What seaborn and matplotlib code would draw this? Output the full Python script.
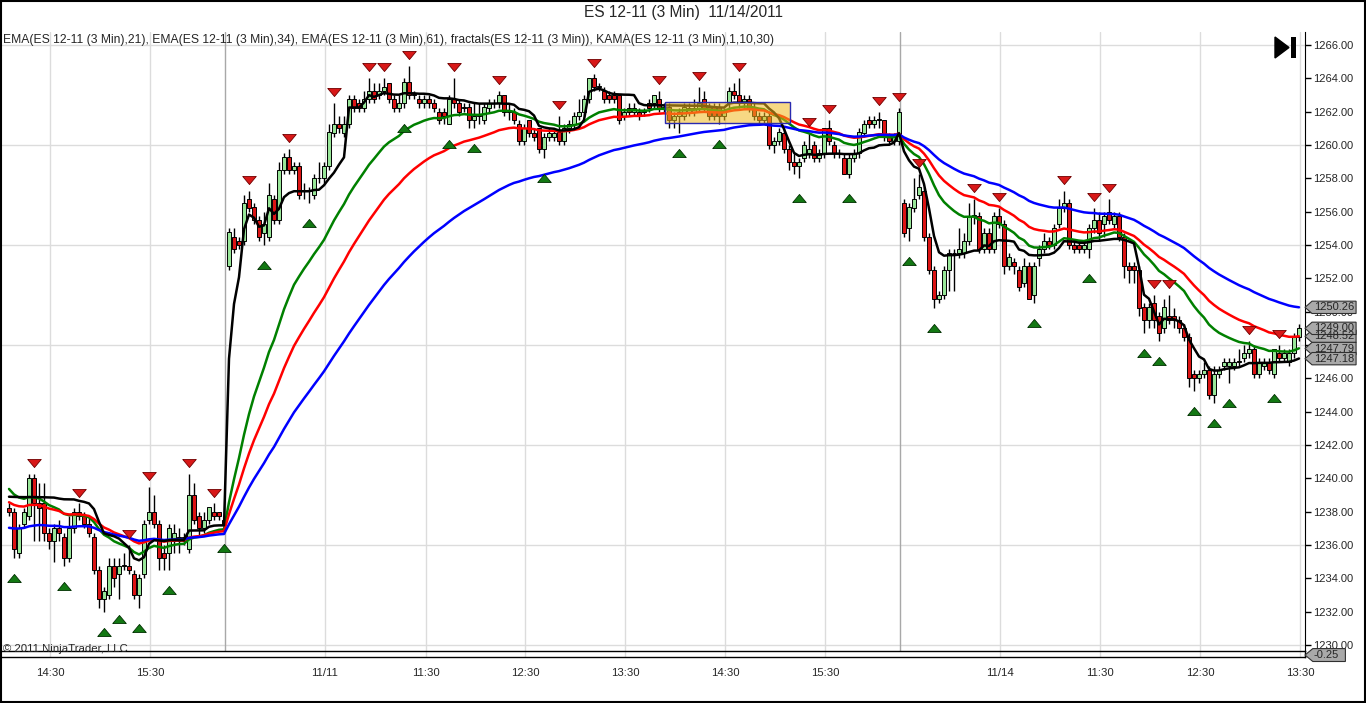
import numpy as np
import pandas as pd
import matplotlib
matplotlib.use("Agg")
import matplotlib.pyplot as plt
import seaborn as sns
from matplotlib.patches import Rectangle, Polygon
from matplotlib.path import Path
from matplotlib.transforms import blended_transform_factory

# 3 minute bars, 11/10 afternoon, 11/11 full session, 11/14 morning
opens = [
    1238.25, 1238.0, 1235.5, 1237.25, 1237.75, 1240.0, 1238.5, 1238.5, 1236.75, 1236.25,
    1237.0, 1236.5, 1235.25, 1237.0, 1238.0, 1237.75, 1237.25, 1236.5, 1234.5, 1232.75,
    1233.0, 1234.75, 1234.25, 1234.75, 1234.75, 1234.25, 1233.0, 1234.25, 1237.5, 1238.0,
    1237.25, 1235.5, 1235.5, 1236.25, 1236.25, 1236.5, 1235.75, 1239.0, 1237.75, 1237.0,
    1237.5, 1238.0, 1238.0, 1237.5,
    1252.75, 1254.5, 1254.25, 1254.25, 1256.75, 1256.25, 1255.5, 1254.75, 1254.5, 1256.75,
    1255.5, 1258.5, 1259.25, 1258.5, 1258.75, 1257.25, 1257.25, 1257.0, 1258.0, 1258.0,
    1258.75, 1260.75, 1261.25, 1260.75, 1261.25, 1262.75, 1262.5, 1262.25, 1262.75, 1263.25,
    1263.0, 1263.25, 1263.75, 1262.75, 1262.25, 1262.5, 1263.75, 1263.0, 1262.75, 1262.5,
    1262.75, 1262.5, 1262.0, 1262.0, 1261.25, 1262.75, 1262.5, 1262.25, 1262.25, 1261.5,
    1261.75, 1261.5, 1262.25, 1262.5, 1262.5, 1263.0, 1262.0, 1262.0, 1261.25, 1260.25,
    1261.5, 1260.75, 1261.0, 1259.75, 1260.5, 1260.5, 1260.75, 1260.25, 1261.0, 1261.25,
    1261.75, 1262.0, 1262.75, 1264.0, 1263.5, 1263.25, 1263.0, 1263.0, 1263.0, 1261.75,
    1262.25, 1262.0, 1262.0, 1262.0, 1262.5, 1262.5, 1262.75, 1262.25, 1262.25, 1261.5,
    1261.75, 1261.75, 1262.0, 1262.0, 1262.25, 1262.75, 1262.25, 1262.25, 1262.25, 1261.75,
    1262.5, 1263.25, 1263.0, 1262.5, 1262.75, 1262.25, 1261.75, 1261.5, 1261.75, 1260.0,
    1260.25, 1260.75, 1259.75, 1259.0, 1258.75, 1259.25, 1259.5, 1260.0, 1259.25, 1259.5,
    1261.0, 1260.0, 1259.5, 1259.25, 1258.25, 1259.25, 1259.5, 1260.75, 1261.5, 1261.25,
    1261.5, 1261.5, 1260.5, 1260.25, 1260.25,
    1256.5, 1255.0, 1256.25, 1257.0, 1257.25, 1254.5, 1252.5, 1250.75, 1251.0, 1252.5,
    1253.5, 1253.5, 1253.5, 1254.25, 1255.75, 1255.75, 1253.75, 1254.75, 1253.75, 1255.75,
    1255.25, 1252.75, 1253.0, 1252.5, 1251.75, 1252.75, 1251.0, 1253.25, 1253.75, 1254.25,
    1254.0, 1255.25, 1256.25, 1256.5, 1254.0, 1254.0, 1253.75, 1253.75, 1255.0, 1255.5,
    1255.25, 1256.0, 1255.25, 1255.75, 1254.5, 1252.75, 1252.75, 1252.5, 1250.25, 1249.5,
    1250.5, 1249.75, 1249.0, 1249.75, 1249.75, 1249.5, 1249.0, 1248.5, 1246.25, 1246.0,
    1246.25, 1246.5, 1245.0, 1246.25, 1246.75, 1246.75, 1246.75, 1247.0, 1247.25, 1247.5,
    1247.75, 1246.25, 1246.75, 1247.0, 1246.25, 1247.5, 1247.25, 1247.0, 1247.5, 1248.5,
]
highs = [
    1238.5, 1238.25, 1237.25, 1238.25, 1240.25, 1240.25, 1239.75, 1239.75, 1237.0, 1237.25,
    1237.5, 1236.75, 1237.75, 1238.25, 1238.5, 1238.0, 1237.75, 1236.75, 1234.75, 1233.5,
    1235.25, 1235.25, 1235.25, 1235.5, 1236.0, 1234.5, 1234.25, 1237.5, 1239.5, 1239.0,
    1237.5, 1236.0, 1237.25, 1237.25, 1237.0, 1236.75, 1240.25, 1239.75, 1238.0, 1238.0,
    1238.25, 1238.5, 1238.0, 1237.75,
    1255.0, 1255.0, 1254.5, 1257.0, 1257.25, 1256.5, 1255.75, 1256.0, 1257.75, 1257.0,
    1259.0, 1259.5, 1259.75, 1259.0, 1259.0, 1257.75, 1257.5, 1258.25, 1259.0, 1259.0,
    1261.25, 1262.5, 1261.75, 1261.75, 1263.0, 1263.0, 1262.75, 1263.25, 1264.0, 1263.75,
    1263.75, 1264.0, 1263.75, 1263.0, 1263.0, 1264.0, 1264.75, 1263.25, 1263.0, 1263.0,
    1263.0, 1262.75, 1262.25, 1262.25, 1263.0, 1264.0, 1262.75, 1262.5, 1262.5, 1262.5,
    1262.5, 1262.5, 1262.75, 1262.75, 1263.25, 1263.0, 1262.5, 1262.25, 1261.5, 1261.25,
    1261.5, 1261.0, 1261.0, 1260.75, 1261.0, 1261.0, 1261.75, 1261.25, 1261.5, 1262.0,
    1262.75, 1263.0, 1264.0, 1264.25, 1263.75, 1263.5, 1263.25, 1263.25, 1263.0, 1262.25,
    1262.5, 1262.5, 1262.25, 1262.25, 1262.75, 1263.0, 1263.25, 1262.5, 1262.5, 1262.0,
    1262.25, 1262.5, 1262.5, 1262.75, 1263.5, 1263.25, 1262.5, 1262.5, 1262.5, 1262.25,
    1263.5, 1263.75, 1264.0, 1263.0, 1263.0, 1262.5, 1262.0, 1262.0, 1262.0, 1260.5,
    1261.0, 1261.0, 1260.0, 1259.5, 1259.25, 1260.25, 1260.75, 1260.25, 1259.75, 1261.0,
    1261.5, 1260.25, 1259.75, 1259.5, 1259.5, 1259.75, 1261.0, 1261.5, 1261.75, 1261.75,
    1262.0, 1261.5, 1260.75, 1260.75, 1262.25,
    1256.75, 1256.5, 1258.0, 1258.25, 1257.5, 1254.75, 1252.75, 1251.25, 1252.75, 1253.75,
    1253.75, 1255.0, 1254.75, 1256.5, 1256.75, 1256.0, 1255.0, 1255.0, 1256.0, 1256.25,
    1255.5, 1253.5, 1253.25, 1252.75, 1253.25, 1253.0, 1253.0, 1254.0, 1254.75, 1254.5,
    1255.25, 1256.75, 1257.25, 1256.75, 1254.25, 1254.25, 1254.25, 1255.25, 1256.25, 1256.0,
    1256.0, 1256.75, 1256.0, 1256.0, 1254.75, 1253.0, 1253.0, 1252.75, 1250.5, 1250.5,
    1251.0, 1250.0, 1250.75, 1251.0, 1250.25, 1249.75, 1249.25, 1248.75, 1246.5, 1246.5,
    1247.0, 1246.75, 1246.75, 1246.75, 1247.25, 1247.25, 1247.25, 1247.75, 1248.0, 1248.25,
    1248.0, 1247.25, 1247.25, 1247.25, 1247.75, 1248.0, 1247.75, 1247.75, 1248.75, 1249.25,
]
lows = [
    1237.75, 1235.25, 1235.25, 1237.0, 1237.5, 1236.25, 1236.25, 1236.25, 1235.75, 1235.0,
    1236.25, 1234.75, 1235.0, 1236.75, 1237.5, 1237.0, 1236.5, 1234.25, 1232.25, 1232.0,
    1232.75, 1233.5, 1232.75, 1234.5, 1234.25, 1232.75, 1232.25, 1234.0, 1237.25, 1237.0,
    1234.5, 1234.5, 1234.5, 1235.5, 1235.5, 1236.0, 1235.5, 1237.25, 1236.5, 1236.75,
    1237.25, 1237.5, 1237.5, 1237.0,
    1252.5, 1253.5, 1253.75, 1254.0, 1256.0, 1255.25, 1254.25, 1254.0, 1254.25, 1255.25,
    1255.25, 1258.25, 1258.25, 1258.25, 1256.75, 1256.75, 1256.5, 1256.75, 1257.75, 1257.75,
    1258.5, 1260.5, 1260.75, 1260.5, 1261.0, 1262.0, 1262.0, 1262.0, 1262.5, 1262.5,
    1262.75, 1263.0, 1262.5, 1262.0, 1262.0, 1262.25, 1262.75, 1262.75, 1262.25, 1262.25,
    1262.25, 1262.0, 1261.25, 1261.25, 1261.25, 1262.25, 1261.75, 1262.0, 1261.0, 1261.0,
    1261.25, 1261.25, 1262.0, 1262.25, 1262.25, 1261.75, 1261.5, 1261.25, 1260.0, 1260.0,
    1260.5, 1260.25, 1259.5, 1259.25, 1260.25, 1260.25, 1260.0, 1260.0, 1260.75, 1261.0,
    1261.5, 1261.75, 1262.5, 1263.25, 1263.25, 1262.5, 1262.5, 1262.5, 1261.25, 1261.5,
    1261.75, 1261.75, 1261.5, 1261.75, 1262.0, 1262.25, 1262.0, 1262.0, 1261.0, 1261.0,
    1260.75, 1261.5, 1261.75, 1261.75, 1262.0, 1262.0, 1261.5, 1261.5, 1261.25, 1261.5,
    1262.25, 1262.75, 1262.25, 1262.25, 1262.0, 1261.5, 1261.25, 1261.25, 1259.75, 1259.5,
    1260.0, 1259.5, 1258.5, 1258.25, 1258.0, 1259.0, 1259.25, 1259.0, 1259.0, 1259.25,
    1260.0, 1259.25, 1259.25, 1258.25, 1258.0, 1259.0, 1259.25, 1260.5, 1261.0, 1261.0,
    1261.0, 1260.25, 1260.0, 1260.0, 1260.0,
    1254.5, 1254.25, 1256.0, 1256.75, 1254.25, 1252.25, 1250.25, 1250.5, 1250.75, 1251.25,
    1251.25, 1253.25, 1253.25, 1254.0, 1255.25, 1253.5, 1253.5, 1253.5, 1253.5, 1255.0,
    1252.25, 1252.5, 1252.25, 1251.25, 1251.5, 1250.75, 1250.5, 1252.75, 1253.5, 1253.75,
    1253.75, 1255.0, 1256.0, 1253.75, 1253.5, 1253.5, 1253.5, 1253.25, 1254.75, 1254.25,
    1254.5, 1255.25, 1255.0, 1254.25, 1252.0, 1251.75, 1251.75, 1249.75, 1248.75, 1249.0,
    1249.0, 1248.25, 1248.75, 1249.25, 1249.0, 1248.75, 1248.25, 1245.5, 1245.25, 1245.75,
    1246.0, 1244.75, 1244.5, 1246.0, 1246.5, 1245.75, 1246.5, 1246.75, 1247.0, 1247.25,
    1246.0, 1246.0, 1246.5, 1246.25, 1246.0, 1247.0, 1247.0, 1246.75, 1247.25, 1248.25,
]
closes = [
    1238.0, 1235.75, 1237.0, 1238.0, 1240.0, 1238.5, 1238.25, 1236.75, 1236.25, 1237.0,
    1236.75, 1235.25, 1237.0, 1238.0, 1237.75, 1237.25, 1236.75, 1234.5, 1232.75, 1233.25,
    1234.75, 1234.0, 1234.75, 1234.75, 1234.5, 1233.0, 1234.0, 1237.25, 1238.0, 1237.25,
    1235.25, 1235.25, 1237.0, 1236.75, 1236.5, 1236.25, 1239.0, 1237.5, 1237.0, 1237.5,
    1238.25, 1237.75, 1237.75, 1237.25,
    1254.75, 1253.75, 1254.0, 1256.5, 1256.25, 1255.5, 1254.5, 1255.25, 1257.0, 1255.5,
    1258.5, 1259.25, 1258.5, 1258.75, 1257.0, 1257.25, 1257.25, 1258.0, 1258.0, 1258.75,
    1260.75, 1261.25, 1261.0, 1261.25, 1262.75, 1262.25, 1262.25, 1262.75, 1263.25, 1262.75,
    1263.25, 1263.5, 1262.75, 1262.25, 1262.5, 1263.75, 1263.0, 1263.0, 1262.5, 1262.75,
    1262.5, 1262.25, 1261.5, 1261.75, 1262.75, 1262.5, 1262.0, 1262.25, 1261.5, 1261.75,
    1261.75, 1262.25, 1262.5, 1262.5, 1263.0, 1262.0, 1262.0, 1261.5, 1260.25, 1261.0,
    1260.75, 1260.5, 1259.75, 1260.5, 1260.75, 1260.75, 1260.25, 1261.0, 1261.25, 1261.75,
    1262.0, 1262.75, 1264.0, 1263.5, 1263.5, 1262.75, 1262.75, 1262.75, 1261.5, 1262.0,
    1262.0, 1262.25, 1261.75, 1262.0, 1262.25, 1263.0, 1262.25, 1262.25, 1261.5, 1261.75,
    1262.0, 1262.25, 1262.25, 1262.25, 1262.5, 1262.25, 1261.75, 1261.75, 1261.75, 1262.0,
    1263.25, 1263.0, 1262.5, 1262.75, 1262.25, 1261.75, 1261.5, 1261.75, 1260.0, 1260.25,
    1260.75, 1259.75, 1259.0, 1258.75, 1259.0, 1260.0, 1259.75, 1259.25, 1259.5, 1261.0,
    1260.25, 1259.5, 1259.5, 1258.25, 1259.25, 1259.5, 1260.75, 1261.25, 1261.25, 1261.5,
    1261.5, 1260.5, 1260.25, 1260.5, 1262.0,
    1254.75, 1256.25, 1256.75, 1257.5, 1254.5, 1252.5, 1250.75, 1251.0, 1252.5, 1253.5,
    1253.5, 1253.75, 1254.25, 1255.75, 1255.75, 1253.75, 1254.75, 1253.75, 1255.75, 1255.25,
    1252.75, 1253.25, 1252.75, 1251.5, 1252.75, 1250.75, 1252.75, 1253.75, 1254.25, 1254.0,
    1255.0, 1256.25, 1256.5, 1254.0, 1253.75, 1253.75, 1254.0, 1255.0, 1255.5, 1254.75,
    1255.75, 1255.5, 1255.75, 1254.5, 1252.75, 1252.5, 1252.5, 1250.25, 1249.5, 1250.25,
    1249.5, 1248.75, 1250.25, 1249.5, 1249.5, 1249.0, 1248.5, 1246.0, 1246.0, 1246.25,
    1246.5, 1245.0, 1246.25, 1246.5, 1247.0, 1247.0, 1247.0, 1247.0, 1247.5, 1247.75,
    1246.25, 1247.0, 1247.0, 1246.5, 1247.75, 1247.25, 1247.5, 1247.5, 1248.5, 1249.0,
]

# bars carrying a fractal marker
up_fractals = [5, 14, 24, 28, 36, 41, 48, 56, 65, 72, 75, 80, 89, 98, 110, 117, 130, 138,
               146, 160, 164, 174, 178, 182, 193, 198, 211, 217, 220, 229, 232, 248, 254]
down_fractals = [1, 11, 19, 22, 26, 32, 43, 51, 60, 79, 88, 93, 107, 134, 142, 158, 168,
                 180, 185, 205, 216, 227, 230, 237, 241, 244, 253]

tick_bars = [8.2, 28.2, 63.2, 83.4, 103.2, 123.2, 143.2, 163.2, 198.2, 218.2, 238.2, 258.2]
tick_labels = ["14:30", "15:30", "11/11", "11:30", "12:30", "13:30",
               "14:30", "15:30", "11/14", "11:30", "12:30", "13:30"]
session_breaks = [43.2, 178.2]

# indicator settings and their values just before the first visible bar
ema_periods = [21, 34, 61]
ema_colors = ["#008000", "#ff0000", "#0000ff"]
ema_seed = [1239.5, 1238.6, 1237.0]
kama_params = (1, 10, 30)
kama_seed = 1238.9

tag_values = [1250.26, 1248.52, 1249.00, 1247.79, 1247.18]
highlight = (131.2, 156.2, 1261.32, 1262.58)


def ema(values, period, seed):
    k = 2.0 / (period + 1)
    out, prev = [], seed
    for v in values:
        prev = prev + k * (v - prev)
        out.append(prev)
    return out


def kama(values, fast, period, slow, seed):
    fast_cf = 2.0 / (fast + 1)
    slow_cf = 2.0 / (slow + 1)
    out, prev = [], seed
    for i, v in enumerate(values):
        if i < period:
            # not enough bars for the efficiency ratio yet
            sc = slow_cf ** 2
        else:
            signal = abs(v - values[i - period])
            noise = sum(abs(values[m] - values[m - 1]) for m in range(i - period + 1, i + 1))
            er = signal / noise if noise > 0 else 0.0
            sc = (er * (fast_cf - slow_cf) + slow_cf) ** 2
        prev = prev + sc * (v - prev)
        out.append(prev)
    return out


n = len(closes)
bars = np.arange(n)
o = np.array(opens); h = np.array(highs); l = np.array(lows); c = np.array(closes)

names = [f"EMA{p}" for p in ema_periods] + ["KAMA"]
series = [ema(closes, p, s) for p, s in zip(ema_periods, ema_seed)]
series.append(kama(closes, *kama_params, kama_seed))
lines = pd.DataFrame({
    "bar": np.tile(bars, len(names)),
    "value": np.concatenate(series),
    "name": np.repeat(names, n),
})
print({nm: round(s[-1], 2) for nm, s in zip(names, series)})

sns.set_style("white")
plt.rcParams["font.family"] = ["Liberation Sans", "DejaVu Sans"]

W, H = 1366, 703
fig = plt.figure(figsize=(W / 100, H / 100), dpi=100, facecolor="white")
ax = fig.add_axes([2 / W, 1 - 651 / H, 1303 / W, 619 / H])
ax2 = fig.add_axes([2 / W, 1 - 657 / H, 1303 / W, 6 / H], sharex=ax)

ax.set_xlim(-1.4, 259.2)
ax.set_ylim(1229.64, 1266.78)

grid_col = "#dcdcdc"
for y in np.arange(1230, 1267, 6):
    ax.axhline(y, color=grid_col, lw=1, zorder=0)
for x in tick_bars:
    ax.axvline(x, color=grid_col, lw=1, zorder=0)
    ax2.axvline(x, color=grid_col, lw=1, zorder=0)
for x in session_breaks:
    ax.axvline(x, color="#a8a8a8", lw=1, zorder=0.5)

# candles
up = c >= o
ax.vlines(bars, l, h, color="black", lw=1, zorder=2)
body_h = np.maximum(np.abs(c - o), 0.04)
ax.bar(bars, body_h, bottom=np.minimum(o, c), width=0.74,
       color=np.where(up, "#98e698", "#dc1414"), edgecolor="black", linewidth=0.7, zorder=3)

# moving averages
sns.lineplot(data=lines, x="bar", y="value", hue="name", hue_order=names,
             palette=dict(zip(names, ema_colors + ["black"])), linewidth=1.8,
             legend=False, sort=False, estimator=None, ax=ax, zorder=4)

# fractals
down_tri = Path([(-1, 0.6), (1, 0.6), (0, -0.6), (-1, 0.6)])
up_tri = Path([(-1, -0.6), (1, -0.6), (0, 0.6), (-1, -0.6)])
up_idx = np.array(up_fractals); dn_idx = np.array(down_fractals)
sns.scatterplot(x=up_idx, y=h[up_idx] + 0.65, marker=down_tri, s=95, color="#d81818",
                edgecolor="#700000", linewidth=0.6, ax=ax, zorder=5)
sns.scatterplot(x=dn_idx, y=l[dn_idx] - 1.2, marker=up_tri, s=95, color="#137813",
                edgecolor="#003000", linewidth=0.6, ax=ax, zorder=5)

# highlighted region
x0, x1, y0, y1 = highlight
ax.add_patch(Rectangle((x0, y0), x1 - x0, y1 - y0, facecolor="#f2b820", alpha=0.55,
                       edgecolor="none", zorder=6))
ax.add_patch(Rectangle((x0, y0), x1 - x0, y1 - y0, fill=False, edgecolor="#2a2ab0",
                       lw=1, zorder=6))

# axes styling
ax.set_xlabel(""); ax.set_ylabel("")
for sp in ["top", "left", "bottom"]:
    ax.spines[sp].set_visible(False)
ax.spines["right"].set_color("black")
ax.yaxis.tick_right()
ax.set_yticks(np.arange(1230, 1267, 2))
ax.set_yticklabels([f"{v:.2f}" for v in np.arange(1230, 1267, 2)])
ax.tick_params(axis="y", direction="out", length=4, width=1, color="black",
               labelsize=8, pad=1.5)
ax.tick_params(axis="x", bottom=False, labelbottom=False)

ax2.set_ylim(0, 1)
ax2.set_yticks([])
ax2.spines["left"].set_visible(False)
for sp in ["top", "bottom", "right"]:
    ax2.spines[sp].set_color("black")
    ax2.spines[sp].set_linewidth(1)
ax2.set_xticks(tick_bars)
ax2.set_xticklabels(tick_labels)
ax2.tick_params(axis="x", direction="out", length=5, width=1, color="black",
                labelsize=8.2, pad=3)

# price tags on the right axis
tr = blended_transform_factory(ax.transAxes, ax.transData)
hh = 0.37
for v in tag_values:
    pts = [(1.0, v), (1.0054, v + hh), (1.0392, v + hh), (1.0392, v - hh), (1.0054, v - hh)]
    ax.add_patch(Polygon(pts, closed=True, transform=tr, facecolor="#a9a9a9",
                         edgecolor="#303030", lw=0.8, clip_on=False, zorder=20))
    ax.text(1.0068, v, f"{v:.2f}", transform=tr, fontsize=8, va="center", ha="left",
            clip_on=False, zorder=21)

tr2 = ax2.transAxes
pts = [(1.0, 0.33), (1.006, 1.4), (1.031, 1.4), (1.031, -0.75), (1.006, -0.75)]
ax2.add_patch(Polygon(pts, closed=True, transform=tr2, facecolor="#a9a9a9",
                      edgecolor="#303030", lw=0.8, clip_on=False, zorder=20))
ax2.text(1.0065, 0.33, "-0.25", transform=tr2, fontsize=8, va="center", ha="left",
         clip_on=False, zorder=21)

# texts
fig.text(0.5, 1 - 13 / H, "ES 12-11 (3 Min)  11/14/2011", ha="center", va="center",
         fontsize=11.2)
fig.text(3 / W, 1 - 40 / H,
         "EMA(ES 12-11 (3 Min),21), EMA(ES 12-11 (3 Min),34), EMA(ES 12-11 (3 Min),61), "
         "fractals(ES 12-11 (3 Min)), KAMA(ES 12-11 (3 Min),1,10,30)",
         ha="left", va="center", fontsize=8.7)
fig.text(3 / W, 1 - 649 / H, "\u00a9 2011 NinjaTrader, LLC", ha="left", va="center",
         fontsize=8.2)

# play-to-end icon
fig.patches.append(Polygon([(1275 / W, 1 - 37 / H), (1275 / W, 1 - 58 / H), (1289 / W, 1 - 47.5 / H)],
                           closed=True, transform=fig.transFigure, facecolor="black",
                           edgecolor="black"))
fig.patches.append(Rectangle((1291 / W, 1 - 58 / H), 5 / W, 21 / H, transform=fig.transFigure,
                             facecolor="black", edgecolor="none"))

# outer frame
fig.patches.append(Rectangle((0.0007, 0.0014), 0.9986, 0.997, transform=fig.transFigure,
                             fill=False, edgecolor="black", lw=1.5))

fig.savefig("out.png", dpi=100, facecolor="white")
